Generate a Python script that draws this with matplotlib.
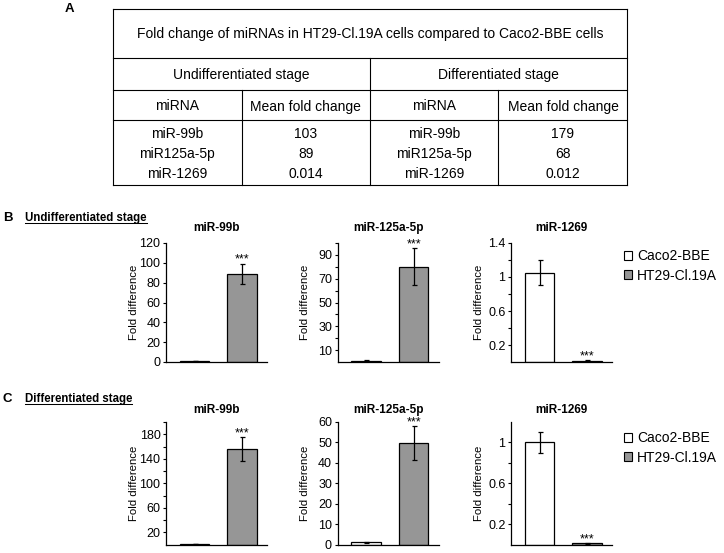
import matplotlib
matplotlib.use('Agg')
import matplotlib.pyplot as plt
from matplotlib.patches import Patch
from matplotlib.ticker import FixedLocator, FuncFormatter

plt.rcParams['font.family'] = ['Liberation Sans', 'DejaVu Sans']

# Panel A: table
table_title = 'Fold change of miRNAs in HT29-Cl.19A cells compared to Caco2-BBE cells'
stage_names = ['Undifferentiated stage', 'Differentiated stage']
col_heads = ['miRNA', 'Mean fold change']
table_mirnas = ['miR-99b', 'miR125a-5p', 'miR-1269']
undiff_fold = ['103', '89', '0.014']
diff_fold = ['179', '68', '0.012']

# Panels B and C: bar charts
mirnas = ['miR-99b', 'miR-125a-5p', 'miR-1269']
cell_lines = ['Caco2-BBE', 'HT29-Cl.19A']
undiff_caco = [1.0, 1.0, 1.05]
undiff_caco_err = [0.3, 0.3, 0.15]
undiff_ht = [89, 80, 0.015]
undiff_ht_err = [10, 15.5, 0.004]
diff_caco = [1.0, 1.0, 1.0]
diff_caco_err = [0.3, 0.2, 0.1]
diff_ht = [156, 49.6, 0.012]
diff_ht_err = [19, 8.2, 0.003]
star_label = '***'

# axis setup (limits / ticks) per panel
undiff_ylim = [120, 100, 1.4]
undiff_major = [[0, 20, 40, 60, 80, 100, 120], [10, 30, 50, 70, 90], [0.2, 0.6, 1.0, 1.4]]
undiff_minor = [[], [20, 40, 60, 80, 100], [0.4, 0.8, 1.2]]
diff_ylim = [200, 60, 1.2]
diff_major = [[20, 60, 100, 140, 180], [0, 10, 20, 30, 40, 50, 60], [0.2, 0.6, 1.0]]
diff_minor = [[40, 80, 120, 160, 200], [], [0.4, 0.8]]

W, H = 724, 553
GREY = '#969696'
fig = plt.figure(figsize=(W / 100, H / 100), dpi=100)

# overlay axes in pixel coordinates for table and panel labels
ov = fig.add_axes([0, 0, 1, 1])
ov.set_xlim(0, W)
ov.set_ylim(H, 0)
ov.axis('off')

# table grid
L, R, T, B = 112.7, 627.3, 9.3, 185
y1, y2, y3 = 58.3, 90, 120
mid, c1, c2 = 370, 241.7, 498.3
lw = 0.8
for y in [T, y1, y2, y3, B]:
    ov.plot([L, R], [y, y], color='black', lw=lw)
for x in [L, R]:
    ov.plot([x, x], [T, B], color='black', lw=lw)
ov.plot([mid, mid], [y1, B], color='black', lw=lw)
for x in [c1, c2]:
    ov.plot([x, x], [y2, B], color='black', lw=lw)

fs = 10
ov.text((L + R) / 2, 34, table_title, ha='center', va='center', fontsize=fs)
ov.text((L + mid) / 2, 75, stage_names[0], ha='center', va='center', fontsize=fs)
ov.text((mid + R) / 2, 75, stage_names[1], ha='center', va='center', fontsize=fs)
for x0, x1 in [(L, mid), (mid, R)]:
    cx = (x0 + x1) / 2
    ov.text((x0 + cx) / 2, 106.5, col_heads[0], ha='center', va='center', fontsize=fs)
    ov.text((cx + x1) / 2, 106.5, col_heads[1], ha='center', va='center', fontsize=fs)
row_y = [134, 154, 173.5]
for i, name in enumerate(table_mirnas):
    ov.text((L + c1) / 2, row_y[i], name, ha='center', va='center', fontsize=fs)
    ov.text((c1 + mid) / 2, row_y[i], undiff_fold[i], ha='center', va='center', fontsize=fs)
    ov.text((mid + c2) / 2, row_y[i], name, ha='center', va='center', fontsize=fs)
    ov.text((c2 + R) / 2, row_y[i], diff_fold[i], ha='center', va='center', fontsize=fs)

# panel letters and section headings
ov.text(69, 9.5, 'A', ha='center', va='center', fontsize=9.5, fontweight='bold')
renderer = fig.canvas.get_renderer()
for letter, heading, base in [('B', stage_names[0], 221), ('C', stage_names[1], 402.3)]:
    ov.text(7.5, base, letter, ha='center', va='baseline', fontsize=9.5, fontweight='bold')
    t = ov.text(25, base, heading, ha='left', va='baseline', fontsize=8.3, fontweight='bold')
    bb = t.get_window_extent(renderer)
    ov.plot([bb.x0, bb.x1], [base + 1.6, base + 1.6], color='black', lw=0.75)

lefts = [166, 337.5, 511]
width_px = 101


def draw_row(top, bottom, caco, caco_err, ht, ht_err, ylims, majors, minors, title_pad, legend_top):
    for i in range(3):
        ax = fig.add_axes([lefts[i] / W, 1 - bottom / H, width_px / W, (bottom - top) / H])
        ax.bar([0, 1], [caco[i], ht[i]], width=0.62, color=['white', GREY],
               edgecolor='black', linewidth=0.9,
               yerr=[caco_err[i], ht_err[i]],
               error_kw=dict(ecolor='black', elinewidth=0.9, capsize=1.8, capthick=0.9))
        ax.annotate(star_label, (1, ht[i] + ht_err[i]), xytext=(0, -1.5),
                    textcoords='offset points', ha='center', va='bottom', fontsize=9)
        ax.set_xlim(-0.6, 1.52)
        ax.set_ylim(0, ylims[i])
        ax.yaxis.set_major_locator(FixedLocator(majors[i]))
        ax.yaxis.set_minor_locator(FixedLocator(minors[i]))
        ax.yaxis.set_major_formatter(FuncFormatter(lambda v, p: '%g' % v))
        for s in ['top', 'right']:
            ax.spines[s].set_visible(False)
        for s in ['left', 'bottom']:
            ax.spines[s].set_linewidth(0.9)
        ax.tick_params(axis='x', bottom=False, labelbottom=False)
        ax.tick_params(axis='y', which='both', direction='out', length=2.5, width=0.8,
                       pad=1.5, labelsize=9)
        ax.set_ylabel('Fold difference', fontsize=8.2)
        ax.yaxis.set_label_coords(-0.27, 0.5)
        ax.set_title(mirnas[i], fontsize=8.5, fontweight='bold', pad=title_pad)
        ax.patch.set_alpha(0)

    handles = [Patch(facecolor='white', edgecolor='black', linewidth=0.8),
               Patch(facecolor=GREY, edgecolor='black', linewidth=0.8)]
    fig.legend(handles, cell_lines, loc='upper left',
               bbox_to_anchor=(624 / W, 1 - legend_top / H), frameon=False, fontsize=10,
               handlelength=0.6, handleheight=0.6, handletextpad=0.35,
               labelspacing=0.4, borderpad=0, borderaxespad=0)


draw_row(243, 362, undiff_caco, undiff_caco_err, undiff_ht, undiff_ht_err,
         undiff_ylim, undiff_major, undiff_minor, 8.6, 249)
draw_row(422, 544.5, diff_caco, diff_caco_err, diff_ht, diff_ht_err,
         diff_ylim, diff_major, diff_minor, 6.5, 431)

fig.savefig('out.png', dpi=100)
